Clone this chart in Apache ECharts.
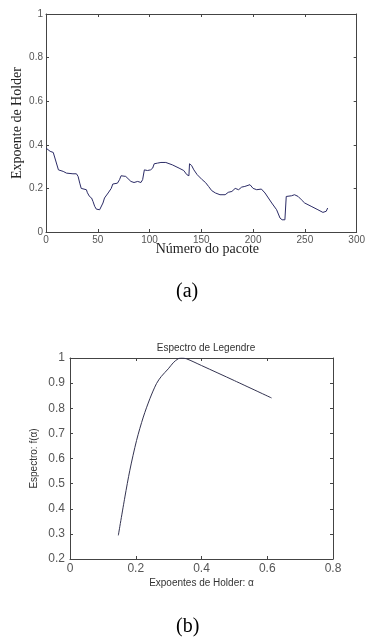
<!DOCTYPE html>
<html>
<head>
<meta charset="utf-8">
<script src="https://cdn.jsdelivr.net/npm/echarts@6/dist/echarts.min.js"></script>
<style>html,body{margin:0;padding:0;background:#fff}#c{width:368px;height:644px}</style>
</head>
<body>
<div id="c"></div>
<script>
// Chart (a): Holder exponent vs packet number
var packetX = [0,4,7,8.6,12,13.4,16.6,19.8,26,29.4,31,32.6,34,39,40,42,44,45.4,47,48.6,51.8,53,55,56.5,60,63,64.5,69,71,72.5,74,77,82,85,88.5,91.7,93.3,95,96.5,98,101,103,104.5,107.7,111,115.7,122,128.5,133,136,138,138.6,140.6,142.8,146,147.6,150.8,154,157,160,163.6,168,173,176,179.5,182.7,186,189,192,197,198.7,200,203.5,208,211.5,218,222.7,226,228,230.7,232,233.9,237,240,243.5,246.6,249.8,256,262.6,267.4,269,270.6,272];
var holderY = [0.385,0.37,0.365,0.362,0.285,0.278,0.278,0.27,0.267,0.267,0.255,0.224,0.2,0.194,0.18,0.163,0.156,0.14,0.118,0.105,0.102,0.11,0.133,0.156,0.179,0.2,0.22,0.224,0.24,0.258,0.263,0.255,0.232,0.227,0.232,0.227,0.24,0.285,0.293,0.282,0.285,0.293,0.313,0.316,0.319,0.319,0.308,0.293,0.282,0.263,0.258,0.313,0.305,0.285,0.263,0.255,0.24,0.227,0.209,0.19,0.179,0.171,0.171,0.182,0.186,0.2,0.194,0.206,0.209,0.217,0.224,0.2,0.194,0.197,0.179,0.133,0.102,0.064,0.056,0.056,0.163,0.163,0.166,0.171,0.163,0.148,0.133,0.118,0.102,0.09,0.084,0.095,0.11];
var topXTicks = {min:0, max:300, interval:50};
var topYTicks = {min:0, max:1, interval:0.2};

// Chart (b): Legendre spectrum
var alphaX = [0.147,0.167,0.182,0.2025,0.223,0.243,0.263,0.278,0.299,0.314,0.329,0.339,0.354,0.4,0.5,0.613];
var spectrumY = [0.294,0.447,0.553,0.672,0.765,0.838,0.898,0.927,0.957,0.981,0.997,1.0,0.997,0.97,0.91,0.841];
var botXTicks = {min:0, max:0.8, interval:0.2};
var botYTicks = {min:0.2, max:1, interval:0.1};

function pairs(xs, ys){ return xs.map(function(x,i){return [x, ys[i]];}); }

var axisCol = '#444';
var labCol = '#555';
function mkAxis(base, extra){
  var o = {
    type:'value', min:base.min, max:base.max, interval:base.interval,
    nameMoveOverlap:false,
    axisLine:{show:true, onZero:false, lineStyle:{color:axisCol, width:1}},
    axisTick:{show:true, inside:true, length:3, lineStyle:{color:axisCol}},
    splitLine:{show:false},
    axisLabel:{show:true}
  };
  for (var k in extra) o[k] = extra[k];
  return o;
}

var chart = echarts.init(document.getElementById('c'), null, {renderer:'canvas'});
chart.setOption({
  animation:false,
  backgroundColor:'#fff',
  title:[{
    text:'Espectro de Legendre', left:201, top:338, textAlign:'center',
    textStyle:{fontFamily:'Liberation Sans, Arial', fontSize:10, fontWeight:'normal', color:'#333'}
  }],
  grid:[
    {left:46, top:14, width:313, height:218},
    {left:70, top:358, width:263, height:201}
  ],
  xAxis:[
    mkAxis(topXTicks,{gridIndex:0, position:'bottom', name:'Número do pacote', nameLocation:'middle', nameGap:10,
      nameTextStyle:{fontFamily:'Liberation Serif, Times New Roman', fontSize:14, color:'#222', padding:[0,0,0,12]},
      axisLabel:{margin:3, fontFamily:'Liberation Sans, Arial', fontSize:10, color:labCol}}),
    mkAxis(topXTicks,{gridIndex:0, position:'top', axisLabel:{show:false}}),
    mkAxis(botXTicks,{gridIndex:1, position:'bottom', name:'Expoentes de Holder: α', nameLocation:'middle', nameGap:19,
      nameTextStyle:{fontFamily:'Liberation Sans, Arial', fontSize:10, color:'#333'},
      axisLabel:{margin:4, fontFamily:'Liberation Sans, Arial', fontSize:12, color:labCol}}),
    mkAxis(botXTicks,{gridIndex:1, position:'top', axisLabel:{show:false}})
  ],
  yAxis:[
    mkAxis(topYTicks,{gridIndex:0, position:'left', name:'Expoente de Holder', nameLocation:'middle', nameGap:22,
      nameTextStyle:{fontFamily:'Liberation Serif, Times New Roman', fontSize:14, color:'#222'},
      axisLabel:{margin:3, fontFamily:'Liberation Sans, Arial', fontSize:10, color:labCol}}),
    mkAxis(topYTicks,{gridIndex:0, position:'right', axisLabel:{show:false}}),
    mkAxis(botYTicks,{gridIndex:1, position:'left', name:'Espectro: f(α)', nameLocation:'middle', nameGap:31,
      nameTextStyle:{fontFamily:'Liberation Sans, Arial', fontSize:10, color:'#333'},
      axisLabel:{margin:5, fontFamily:'Liberation Sans, Arial', fontSize:12, color:labCol}}),
    mkAxis(botYTicks,{gridIndex:1, position:'right', axisLabel:{show:false}})
  ],
  series:[
    {type:'line', xAxisIndex:0, yAxisIndex:0, data:pairs(packetX, holderY), symbol:'none',
      lineStyle:{color:'#2b2b66', width:1}},
    {type:'line', xAxisIndex:2, yAxisIndex:2, data:pairs(alphaX, spectrumY), symbol:'none', smooth:0.3,
      lineStyle:{color:'#333350', width:1}}
  ],
  graphic:[
    {type:'text', left:176, top:282, style:{text:'(a)', font:'20px "Liberation Serif", serif', fill:'#000'}},
    {type:'text', left:176, top:617, style:{text:'(b)', font:'20px "Liberation Serif", serif', fill:'#000'}}
  ]
});
</script>
</body>
</html>
